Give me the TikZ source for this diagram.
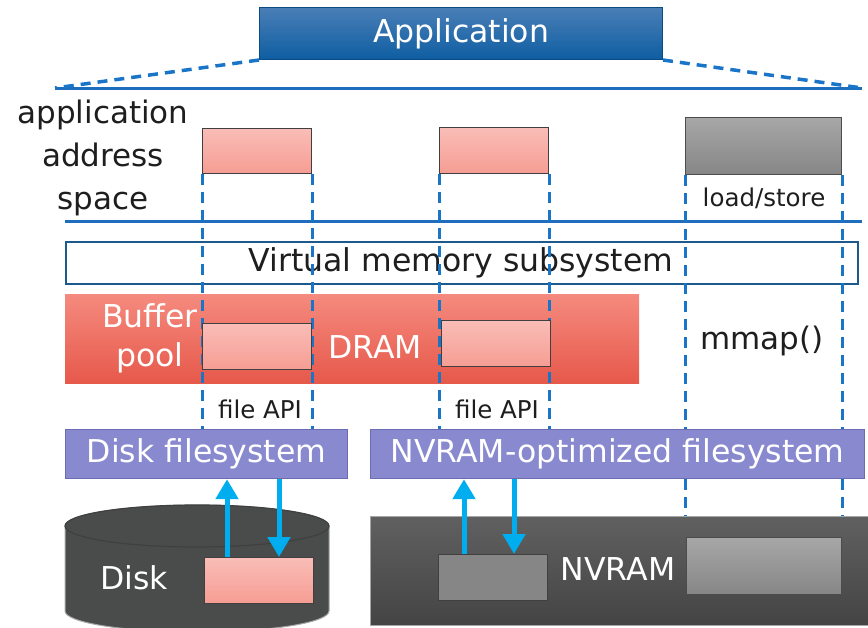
\documentclass[tikz,border=0pt]{standalone}
\usepackage{fontspec}
\setmainfont{DejaVu Sans}
\usetikzlibrary{arrows.meta}
\definecolor{appTop}{HTML}{4A7EB6}
\definecolor{appBot}{HTML}{0E5EA2}
\definecolor{lineBlue}{HTML}{1F6EBE}
\definecolor{dashBlue}{HTML}{1A74C8}
\definecolor{vmBorder}{HTML}{1C5A8E}
\definecolor{dramTop}{HTML}{F58A7E}
\definecolor{dramBot}{HTML}{E6594B}
\definecolor{pinkTop}{HTML}{F9BDB7}
\definecolor{pinkBot}{HTML}{F69D93}
\definecolor{grayTop}{HTML}{A7A7A7}
\definecolor{grayBot}{HTML}{868686}
\definecolor{fsFill}{HTML}{8989CF}
\definecolor{fsBorder}{HTML}{6C6CB2}
\definecolor{ioCyan}{HTML}{00AEEF}
\definecolor{darkTop}{HTML}{606060}
\definecolor{darkBot}{HTML}{444444}
\definecolor{diskBody}{HTML}{4A4B4B}
\definecolor{txtGray}{HTML}{1E1E1E}
\begin{document}
\begin{tikzpicture}[x=1pt,y=-1pt,
  blk/.style={rectangle, inner sep=0pt, anchor=north west},
  pinkbox/.style={blk, draw=black!75, line width=1pt, top color=pinkTop, bottom color=pinkBot},
  graybox/.style={blk, draw=black!70, line width=1pt, top color=grayTop, bottom color=grayBot},
  fsbox/.style={blk, draw=fsBorder, line width=1.2pt, fill=fsFill},
  vline/.style={dashBlue, line width=3pt, dash pattern=on 11pt off 7pt},
  slant/.style={dashBlue, line width=3.5pt, dash pattern=on 10pt off 7pt},
  rule/.style={lineBlue, line width=3pt},
  io/.style={ioCyan, line width=5pt, -{Triangle[width=22pt,length=20pt]}},
  wtxt/.style={text=white, font=\fontsize{31.5}{36}\selectfont, inner sep=0pt},
  btxt/.style={text=txtGray, font=\fontsize{31.5}{36}\selectfont, inner sep=0pt},
  stxt/.style={text=txtGray, font=\fontsize{24.5}{28}\selectfont, inner sep=0pt}]
\useasboundingbox (0,0) rectangle (868,627);

% application and its address space
\node[blk, draw=appBot!80!black, line width=1pt, top color=appTop, bottom color=appBot,
      minimum width=403, minimum height=52] (app) at (259,7) {};
\node[wtxt] (apptext) at (app.center) {Application};
\coordinate (ruleL) at (55,88);
\coordinate (ruleR) at (862,88);
\draw[rule] (ruleL) -- (ruleR);
\draw[slant] (app.south west) -- (ruleL);
\draw[slant] (app.south east) -- (ruleR);
\node[btxt, align=center, font=\fontsize{31}{43}\selectfont] (aas) at (103,158) {application\\address\\space};

\node[pinkbox, minimum width=109, minimum height=45] (ua) at (202,128) {};
\node[pinkbox, minimum width=109, minimum height=46] (ub) at (439,127) {};
\node[graybox, minimum width=156, minimum height=57] (uc) at (685,117) {};
\node[stxt] (ls) at (764,198) {load/store};

\coordinate (rule2L) at (65,221);
\coordinate (rule2R) at (862,221);
\draw[rule] (rule2L) -- (rule2R);

% kernel layers
\node[blk, draw=vmBorder, line width=2pt, fill=white, minimum width=792, minimum height=42] (vm) at (65,241) {};
\node[btxt] (vmtext) at (461,263) {Virtual memory subsystem};

\node[blk, top color=dramTop, bottom color=dramBot, minimum width=574, minimum height=89] (dram) at (65,294) {};
\node[wtxt, align=center, font=\fontsize{31.5}{39}\selectfont] (bp) at (150,338) {Buffer\\pool};
\node[wtxt] (dramtext) at (375,347) {DRAM};

% filesystems
\node[fsbox, minimum width=282, minimum height=49] (fsd) at (65,429) {};
\node[wtxt] (fsdtext) at (fsd.center) {Disk filesystem};
\node[fsbox, minimum width=494, minimum height=49] (fsn) at (370,429) {};
\node[wtxt] (fsntext) at (fsn.center) {NVRAM-optimized filesystem};

% mapping guides
\draw[vline] (ua.south west) -- (ua.south west |- fsd.north);
\draw[vline] (ua.south east) -- (ua.south east |- fsd.north);
\draw[vline] (ub.south west) -- (ub.south west |- fsn.north);
\draw[vline] (ub.south east) -- (ub.south east |- fsn.north);
\coordinate (nvtop) at (685,517);
\draw[vline] (uc.south west) -- (uc.south west |- fsn.north);
\draw[vline] (uc.south east) -- (uc.south east |- fsn.north);
\draw[vline] (uc.south west |- fsn.south) -- (uc.south west |- nvtop);
\draw[vline] (uc.south east |- fsn.south) -- (uc.south east |- nvtop);

\node[pinkbox, minimum width=109, minimum height=46] (da) at (202,323) {};
\node[pinkbox, minimum width=109, minimum height=46] (db) at (441,320) {};

\node[stxt] (fa1) at (260,409) {file API};
\node[stxt] (fa2) at (497,409) {file API};
\node[btxt, font=\fontsize{31}{36}\selectfont] (mm) at (762,341) {mmap()};

% disk
\path[fill=diskBody, draw=black!35, line width=1pt]
  (65,526) -- (65,611) arc[start angle=180, end angle=0, x radius=132, y radius=21]
  -- (329,526) arc[start angle=0, end angle=-180, x radius=132, y radius=21] -- cycle;
\draw[black!75, line width=1.2pt, fill=diskBody] (197,526) ellipse[x radius=132, y radius=21];
\node[wtxt] (disktext) at (134,578) {Disk};
\node[pinkbox, minimum width=109, minimum height=46] (dk) at (204,557) {};

% NVRAM
\node[blk, draw=black!35, line width=1pt, top color=darkTop, bottom color=darkBot,
      minimum width=500, minimum height=109] (nv) at (370,516) {};
\node[blk, draw=black!75, line width=1pt, fill=grayBot, minimum width=109, minimum height=46] (na) at (438,554) {};
\node[wtxt] (nvtext) at (618,569) {NVRAM};
\node[graybox, minimum width=155, minimum height=57] (nb) at (686,537) {};

% I/O paths
\draw[io] ([xshift=23]dk.north west) -- ([xshift=23]dk.north west |- fsd.south);
\draw[io] ([xshift=75]dk.north west |- fsd.south) -- ([xshift=75]dk.north west);
\draw[io] ([xshift=26]na.north west) -- ([xshift=26]na.north west |- fsn.south);
\draw[io] ([xshift=76]na.north west |- fsn.south) -- ([xshift=76]na.north west);
\end{tikzpicture}
\end{document}
